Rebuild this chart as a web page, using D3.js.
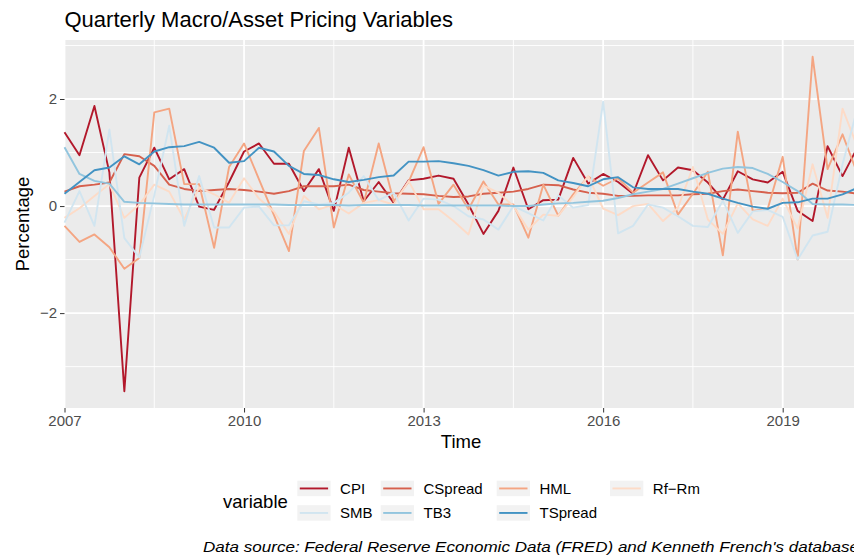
<!DOCTYPE html>
<html>
<head>
<meta charset="utf-8">
<script src="https://cdn.jsdelivr.net/npm/d3@7"></script>
<style>
  html, body { margin: 0; padding: 0; background: #fff; overflow: hidden; }
  svg { display: block; font-family: "Liberation Sans", Arial, sans-serif; }
</style>
</head>
<body>
<div id="chart"></div>
<script>
// quarterly observations, first one is 2007 Q1
var startYear = 2007;
var nQuarters = 54;

var cpi = [1.38, 0.95, 1.87, 0.63, -3.46, 0.53, 1.09, 0.5, 0.69, -0.01, -0.07, 0.45, 1.02, 1.17, 0.79, 0.79,
  0.28, 0.69, -0.09, 1.09, 0.09, 0.45, 0.06, 0.48, 0.51, 0.57, 0.51, 0.03, -0.52, -0.09, 0.72, -0.06,
  0.11, 0.12, 0.9, 0.42, 0.6, 0.45, 0.23, 0.95, 0.48, 0.72, 0.67, 0.44, 0.12, 0.65, 0.5, 0.44,
  0.64, -0.09, -0.28, 1.12, 0.56, 1.1];
var cspread = [0.27, 0.37, 0.4, 0.44, 0.97, 0.93, 0.75, 0.4, 0.32, 0.28, 0.3, 0.32, 0.3, 0.27, 0.23, 0.28,
  0.37, 0.37, 0.37, 0.4, 0.3, 0.27, 0.24, 0.23, 0.22, 0.19, 0.17, 0.18, 0.23, 0.25, 0.27, 0.32,
  0.4, 0.39, 0.31, 0.25, 0.23, 0.19, 0.19, 0.2, 0.2, 0.2, 0.22, 0.23, 0.28, 0.31, 0.28, 0.25,
  0.24, 0.25, 0.42, 0.29, 0.27, 0.23];
var hml = [-0.37, -0.67, -0.53, -0.77, -1.17, -0.97, 1.75, 1.82, 0.41, 0.41, -0.78, 0.73, 1.17, 0.5, -0.17, -0.84,
  1.03, 1.46, -0.4, 0.59, 0.06, 1.17, 0.09, 0.45, 1.1, 0.04, 0.4, -0.06, 0.46, 0.03, 0.03, -0.59,
  0.4, -0.18, 0.22, 0.55, 0.38, 0.52, 0.25, 0.44, 0.63, -0.16, 0.23, 0.64, -0.92, 1.39, -0.09, -0.05,
  0.92, -1.0, 2.79, 0.69, 1.34, 0.6];
var rfrm = [-0.22, -0.04, 0.19, 0.41, -0.22, 0.03, 0.4, 0.27, -0.25, 0.35, 0.22, 0.06, 0.52, 0.14, -0.1, -0.52,
  0.19, -0.06, 0.03, -0.14, 0.06, 0.11, 0.03, 0.47, -0.06, -0.06, -0.28, -0.53, 0.38, 0.25, 0.0, -0.44,
  -0.16, -0.18, 0.17, 0.56, -0.05, -0.17, 0.0, 0.04, -0.28, -0.03, 0.73, -0.25, -0.52, 0.05, -0.25, -0.37,
  0.14, -0.42, 0.78, -0.22, 1.82, 1.1];
var smb = [-0.31, 0.28, -0.37, 1.43, -0.6, -0.96, 0.2, 1.5, -0.37, 0.56, -0.4, -0.4, -0.03, -0.01, -0.36, -0.36,
  0.09, 0.03, 0.06, 0.25, 0.56, 0.11, 0.25, -0.27, 0.14, 0.12, 0.0, -0.19, -0.25, -0.44, 0.0, -0.13,
  -0.27, 0.2, -0.03, 0.02, 1.95, -0.51, -0.37, 0.03, -0.03, -0.19, -0.37, -0.39, 0.1, -0.5, -0.1, -0.07,
  -0.2, -1.0, -0.55, -0.48, 0.78, 1.83];
var tb3 = [1.1, 0.6, 0.47, 0.42, 0.08, 0.06, 0.05, 0.04, 0.03, 0.03, 0.03, 0.03, 0.03, 0.03, 0.03, 0.02,
  0.02, 0.02, 0.02, 0.01, 0.02, 0.02, 0.02, 0.02, 0.01, 0.01, 0.01, 0.01, 0.01, 0.01, 0.0, 0.0,
  0.03, 0.05, 0.06, 0.08, 0.1, 0.15, 0.22, 0.27, 0.32, 0.42, 0.52, 0.62, 0.7, 0.73, 0.71, 0.6,
  0.45, 0.28, 0.04, 0.03, 0.03, 0.02];
var tspread = [0.23, 0.45, 0.67, 0.72, 0.93, 0.78, 1.02, 1.1, 1.12, 1.2, 1.09, 0.81, 0.84, 1.09, 1.02, 0.75,
  0.6, 0.58, 0.5, 0.45, 0.49, 0.54, 0.57, 0.83, 0.83, 0.84, 0.8, 0.75, 0.67, 0.57, 0.64, 0.65,
  0.62, 0.48, 0.43, 0.37, 0.5, 0.54, 0.35, 0.32, 0.32, 0.32, 0.27, 0.23, 0.14, 0.06, -0.01, -0.05,
  0.06, 0.07, 0.14, 0.14, 0.22, 0.34];

var seriesNames = ["CPI", "CSpread", "HML", "Rf\u2212Rm", "SMB", "TB3", "TSpread"];
var seriesValues = [cpi, cspread, hml, rfrm, smb, tb3, tspread];
var seriesColors = ["#b2182b", "#d6604d", "#f4a582", "#fddbc7", "#d1e5f0", "#92c5de", "#4393c3"];

var xTicks = [2007, 2010, 2013, 2016, 2019];
var xMinor = [2008.5, 2011.5, 2014.5, 2017.5, 2020.5];
var yTicks = [-2, 0, 2];
var yMinor = [-3, -1, 1, 3];

var width = 854;
var height = 556;
var panel = { left: 64.5, right: 857.5, top: 40, bottom: 408 };

var times = d3.range(nQuarters).map(function(i) { return startYear + i / 4; });

var allValues = d3.merge(seriesValues);
var yExt = d3.extent(allValues);
var yPad = (yExt[1] - yExt[0]) * 0.05;

var x = d3.scaleLinear()
  .domain(d3.extent(times))
  .range([panel.left, panel.right]);

var y = d3.scaleLinear()
  .domain([yExt[0] - yPad, yExt[1] + yPad])
  .range([panel.bottom, panel.top]);

var svg = d3.select("#chart").append("svg")
  .attr("width", width)
  .attr("height", height);

// panel background + grid
svg.append("rect")
  .attr("x", panel.left).attr("y", panel.top)
  .attr("width", panel.right - panel.left)
  .attr("height", panel.bottom - panel.top)
  .attr("fill", "#ebebeb");

var grid = svg.append("g").attr("class", "grid");
grid.selectAll("line.ymin").data(yMinor).enter().append("line")
  .attr("x1", panel.left).attr("x2", panel.right)
  .attr("y1", function(d) { return y(d); }).attr("y2", function(d) { return y(d); })
  .attr("stroke", "#fff").attr("stroke-width", 0.9);
grid.selectAll("line.xmin").data(xMinor).enter().append("line")
  .attr("y1", panel.top).attr("y2", panel.bottom)
  .attr("x1", function(d) { return x(d); }).attr("x2", function(d) { return x(d); })
  .attr("stroke", "#fff").attr("stroke-width", 0.9);
grid.selectAll("line.ymaj").data(yTicks).enter().append("line")
  .attr("x1", panel.left).attr("x2", panel.right)
  .attr("y1", function(d) { return y(d); }).attr("y2", function(d) { return y(d); })
  .attr("stroke", "#fff").attr("stroke-width", 1.8);
grid.selectAll("line.xmaj").data(xTicks).enter().append("line")
  .attr("y1", panel.top).attr("y2", panel.bottom)
  .attr("x1", function(d) { return x(d); }).attr("x2", function(d) { return x(d); })
  .attr("stroke", "#fff").attr("stroke-width", 1.8);

// lines
var line = d3.line()
  .x(function(d, i) { return x(times[i]); })
  .y(function(d) { return y(d); });

svg.append("g").attr("class", "lines")
  .selectAll("path").data(seriesValues).enter().append("path")
  .attr("d", line)
  .attr("fill", "none")
  .attr("stroke", function(d, i) { return seriesColors[i]; })
  .attr("stroke-width", 1.9)
  .attr("stroke-linejoin", "round");

// axes
var xAxis = d3.axisBottom(x).tickValues(xTicks).tickFormat(d3.format("d")).tickSize(4.5).tickPadding(3);
var yAxis = d3.axisLeft(y).tickValues(yTicks).tickFormat(d3.format("d")).tickSize(4.5).tickPadding(3);

var gx = svg.append("g").attr("transform", "translate(0," + panel.bottom + ")").call(xAxis);
var gy = svg.append("g").attr("transform", "translate(" + panel.left + ",0)").call(yAxis);

[gx, gy].forEach(function(g) {
  g.select(".domain").remove();
  g.selectAll(".tick line").attr("stroke", "#333333").attr("stroke-width", 1);
  g.selectAll(".tick text")
    .attr("fill", "#4d4d4d")
    .style("font-size", "15px")
    .style("font-family", "Liberation Sans, Arial, sans-serif");
});

// titles
svg.append("text")
  .attr("x", panel.left).attr("y", 27)
  .style("font-size", "22px")
  .attr("fill", "#000")
  .text("Quarterly Macro/Asset Pricing Variables");

svg.append("text")
  .attr("x", (panel.left + panel.right) / 2).attr("y", 441)
  .attr("text-anchor", "middle").attr("dominant-baseline", "central")
  .style("font-size", "18.5px")
  .text("Time");

svg.append("text")
  .attr("transform", "translate(22," + (panel.top + panel.bottom) / 2 + ") rotate(-90)")
  .attr("text-anchor", "middle").attr("dominant-baseline", "central")
  .style("font-size", "18.5px")
  .text("Percentage");

// legend
var legend = svg.append("g").attr("class", "legend");
legend.append("text")
  .attr("x", 223).attr("y", 501.5)
  .attr("dominant-baseline", "central")
  .style("font-size", "18.5px")
  .text("variable");

var colX = [297.3, 380.7, 496.7, 610];
var rowY = [480.7, 505.2];
var keyW = 33.3, keyH = 15.5;

var items = legend.selectAll("g.item").data(seriesNames).enter().append("g")
  .attr("class", "item")
  .attr("transform", function(d, i) {
    return "translate(" + colX[i % 4] + "," + rowY[Math.floor(i / 4)] + ")";
  });
items.append("rect")
  .attr("width", keyW).attr("height", keyH)
  .attr("fill", "#f2f2f2");
items.append("line")
  .attr("x1", 2.5).attr("x2", keyW - 2.5)
  .attr("y1", keyH / 2).attr("y2", keyH / 2)
  .attr("stroke", function(d, i) { return seriesColors[i]; })
  .attr("stroke-width", 1.9);
items.append("text")
  .attr("x", keyW + 9.5).attr("y", keyH / 2)
  .attr("dominant-baseline", "central")
  .style("font-size", "15px")
  .text(function(d) { return d; });

// caption (runs past the right edge, as in the original)
svg.append("text")
  .attr("x", 203).attr("y", 546)
  .attr("dominant-baseline", "central")
  .attr("textLength", 656)
  .attr("lengthAdjust", "spacingAndGlyphs")
  .style("font-size", "15.5px")
  .style("font-style", "italic")
  .text("Data source: Federal Reserve Economic Data (FRED) and Kenneth French's database");
</script>
</body>
</html>
